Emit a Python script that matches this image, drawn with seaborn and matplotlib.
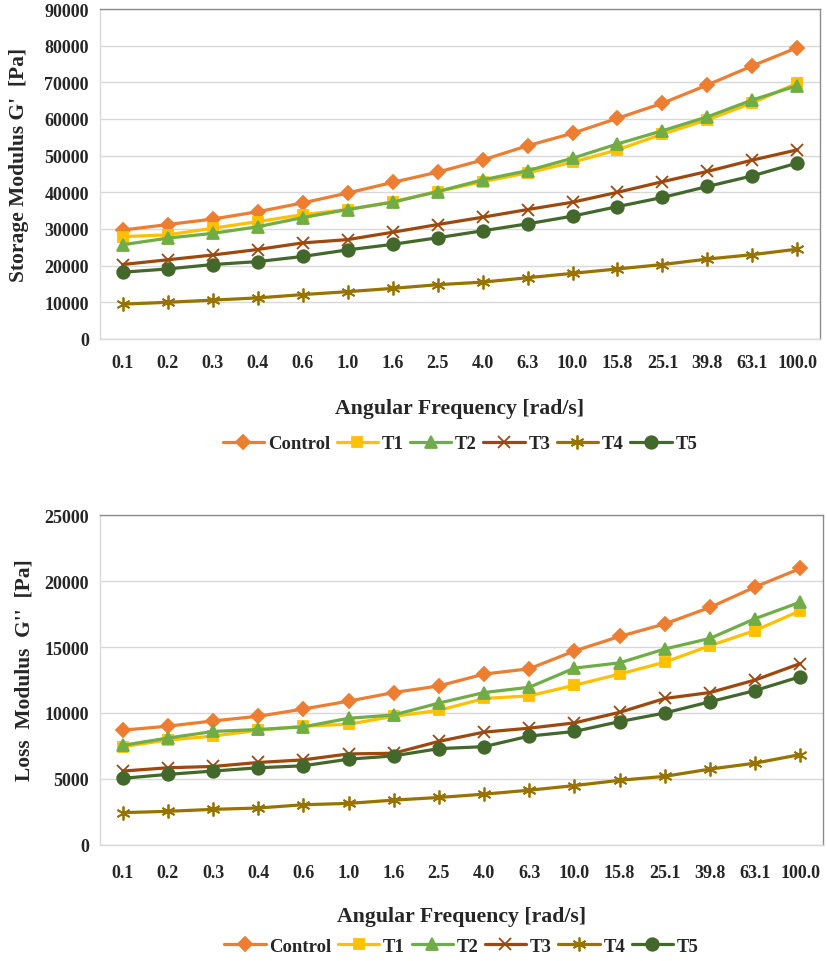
import numpy as np
import pandas as pd
import seaborn as sns
import matplotlib
matplotlib.use("Agg")
import matplotlib.pyplot as plt

freq_labels = ["0.1", "0.2", "0.3", "0.4", "0.6", "1.0", "1.6", "2.5", "4.0", "6.3",
               "10.0", "15.8", "25.1", "39.8", "63.1", "100.0"]
series_names = ["Control", "T1", "T2", "T3", "T4", "T5"]

# Storage modulus G' [Pa]
g1_control = [29700, 31200, 32700, 34700, 37100, 39800, 42700, 45500, 48800, 52700, 56100, 60200, 64300, 69300, 74500, 79500]
g1_t1 = [27900, 28400, 30200, 32000, 33900, 35300, 37400, 40200, 42900, 45300, 48200, 51600, 55900, 59800, 64400, 69800]
g1_t2 = [25700, 27500, 28800, 30600, 33100, 35300, 37300, 40200, 43400, 45900, 49300, 53200, 56800, 60600, 65200, 69100]
g1_t3 = [20300, 21600, 22900, 24400, 26200, 27100, 29100, 31200, 33200, 35300, 37300, 40000, 42900, 45700, 48800, 51600]
g1_t4 = [9500, 10000, 10600, 11200, 12100, 12900, 13800, 14800, 15500, 16700, 17900, 19100, 20300, 21800, 23000, 24500]
g1_t5 = [18200, 19100, 20300, 21100, 22500, 24300, 25800, 27600, 29500, 31400, 33500, 36100, 38600, 41600, 44500, 48000]

# Loss modulus G'' [Pa]
g2_control = [8700, 9000, 9400, 9750, 10300, 10900, 11550, 12050, 12950, 13350, 14700, 15800, 16750, 18000, 19550, 20950]
g2_t1 = [7450, 7950, 8250, 8700, 9000, 9150, 9750, 10200, 11100, 11300, 12100, 12950, 13850, 15100, 16250, 17750]
g2_t2 = [7550, 8100, 8600, 8750, 8950, 9600, 9850, 10750, 11550, 11950, 13400, 13800, 14850, 15650, 17150, 18400]
g2_t3 = [5600, 5850, 5950, 6250, 6450, 6900, 6950, 7850, 8550, 8850, 9250, 10050, 11100, 11550, 12500, 13750]
g2_t4 = [2450, 2550, 2700, 2800, 3050, 3150, 3400, 3600, 3850, 4150, 4500, 4900, 5200, 5750, 6200, 6850]
g2_t5 = [5050, 5350, 5600, 5850, 6000, 6500, 6750, 7300, 7450, 8250, 8600, 9350, 10000, 10850, 11700, 12750]

colors = ["#ED7D31", "#FFC000", "#70AD47", "#9E480E", "#997300", "#43682B"]
markers = ["D", "s", "^", "x", (6, 2, 0), "o"]
msizes = [7, 7.5, 8.5, 8, 10, 9]

sns.set_theme(style="white")
plt.rcParams["font.family"] = ["Liberation Serif", "DejaVu Serif"]
plt.rcParams["font.weight"] = "bold"

fig = plt.figure(figsize=(8.27, 9.62), dpi=100)
ax1 = fig.add_axes([0.121, 0.6466, 0.8705, 0.343])
ax2 = fig.add_axes([0.121, 0.1206, 0.874, 0.343])

specs = [
    (ax1, [g1_control, g1_t1, g1_t2, g1_t3, g1_t4, g1_t5], 90000, 10000,
     "Storage Modulus G'  [Pa]", 11, -0.208, (-0.113, 0.53), -0.318),
    (ax2, [g2_control, g2_t1, g2_t2, g2_t3, g2_t4, g2_t5], 25000, 5000,
     "Loss  Modulus  G''  [Pa]", 14, -0.214, (-0.105, 0.533), -0.306),
]

xidx = np.arange(len(freq_labels))

for ax, vals, ymax, ystep, ylabel, xpad, xl_y, yl_xy, leg_y in specs:
    for name, v, c, m, ms in zip(series_names, vals, colors, markers, msizes):
        df = pd.DataFrame({"idx": xidx, "value": v})
        sns.lineplot(data=df, x="idx", y="value", color=c, marker=m, markersize=ms,
                     markerfacecolor=c, markeredgecolor=c, markeredgewidth=1.3,
                     linewidth=2.3, ax=ax, label=name)
    ax.set_xlim(-0.5, len(freq_labels) - 0.5)
    ax.set_ylim(0, ymax)
    ticks = np.arange(0, ymax + 1, ystep)
    ax.set_yticks(ticks)
    ax.set_yticklabels([str(int(t)) for t in ticks], fontsize=13, fontweight="bold")
    ax.set_xticks(xidx)
    ax.set_xticklabels(freq_labels, fontsize=13, fontweight="bold")
    ax.tick_params(axis="y", length=0, pad=8)
    ax.tick_params(axis="x", length=0, pad=xpad)
    ax.grid(axis="y", color="#d9d9d9", linewidth=1)
    ax.set_axisbelow(True)
    for s in ["left", "bottom"]:
        ax.spines[s].set_color("#d9d9d9")
        ax.spines[s].set_linewidth(1)
    for s in ["top", "right"]:
        ax.spines[s].set_color("#8c8c8c")
        ax.spines[s].set_linewidth(1)
    ax.set_xlabel("Angular Frequency [rad/s]", fontsize=15.7, fontweight="bold", va="center")
    ax.xaxis.set_label_coords(0.5, xl_y)
    ax.set_ylabel(ylabel, fontsize=15.5, fontweight="bold", va="center")
    ax.yaxis.set_label_coords(*yl_xy)
    handles, labels = ax.get_legend_handles_labels()
    ax.legend(handles, labels, loc="center", bbox_to_anchor=(0.5, leg_y), ncol=6,
              frameon=False, handlelength=2.2, columnspacing=0.35, handletextpad=0.2,
              borderaxespad=0, prop={"size": 13.5, "weight": "bold"})

fig.savefig("out.png", dpi=100)
